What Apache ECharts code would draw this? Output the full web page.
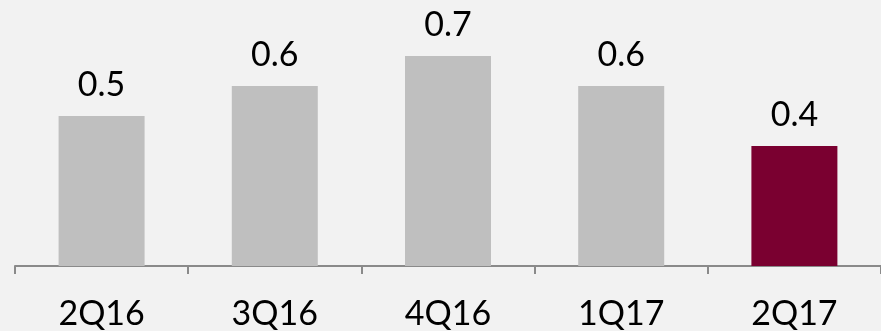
<!DOCTYPE html>
<html>
<head>
<meta charset="utf-8">
<script src="https://cdn.jsdelivr.net/npm/echarts@6/dist/echarts.min.js"></script>
<style>
  html, body { margin: 0; padding: 0; background: #f2f2f2; }
  #chart { width: 881px; height: 331px; }
</style>
</head>
<body>
<div id="chart"></div>
<script>
// Quarterly values
const quarters = ['2Q16', '3Q16', '4Q16', '1Q17', '2Q17'];
const values = [0.5, 0.6, 0.7, 0.6, 0.4];
const barColors = ['#bfbfbf', '#bfbfbf', '#bfbfbf', '#bfbfbf', '#7a0030'];

const chart = echarts.init(document.getElementById('chart'), null, { renderer: 'canvas' });

chart.setOption({
  backgroundColor: '#f2f2f2',
  animation: false,
  grid: { left: 15, top: 26, width: 870, height: 240, containLabel: false },
  xAxis: {
    type: 'category',
    data: quarters,
    axisLine: { show: true, lineStyle: { color: '#8a8a8a', width: 2 } },
    axisTick: { show: true, length: 8, lineStyle: { color: '#8a8a8a', width: 2 } },
    axisLabel: {
      color: '#000', fontFamily: 'Lato', fontSize: 34, margin: 31
    }
  },
  yAxis: {
    type: 'value',
    min: 0,
    max: 0.8,
    show: false,
    splitLine: { show: false }
  },
  series: [{
    type: 'bar',
    data: values.map((v, i) => ({ value: v, itemStyle: { color: barColors[i] } })),
    barWidth: 86,
    label: {
      show: true,
      position: 'top',
      distance: 14,
      color: '#000',
      fontFamily: 'Lato',
      fontSize: 34,
      formatter: p => p.value.toFixed(1)
    }
  }]
});
</script>
</body>
</html>
